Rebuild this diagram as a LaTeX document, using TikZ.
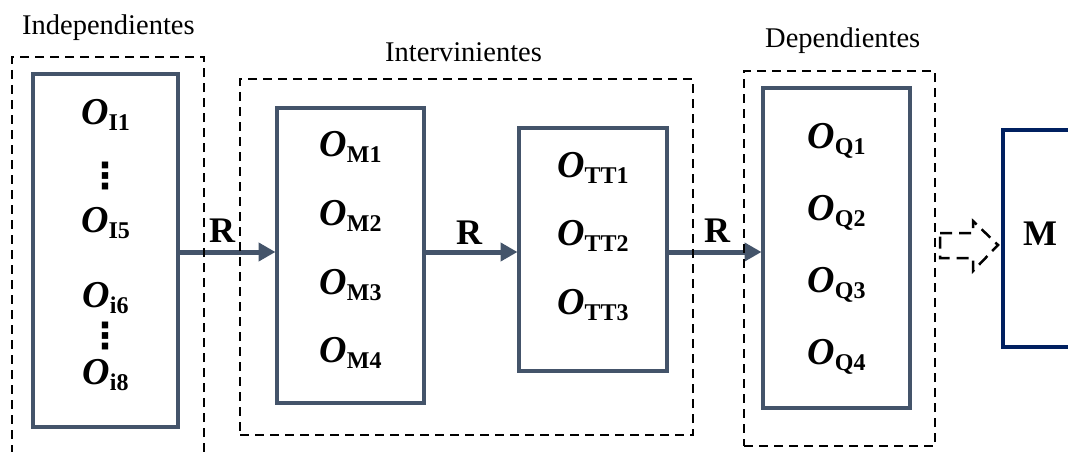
\documentclass[tikz,border=0pt]{standalone}
\usepackage{fontspec}
\setmainfont{Liberation Serif}
\newfontfamily\djv{DejaVu Sans}
\usetikzlibrary{arrows.meta,calc}
\definecolor{slate}{HTML}{44546A}
\definecolor{navy}{HTML}{002060}
\newcommand{\ob}[1]{{\fontsize{38}{38}\selectfont\bfseries\itshape O}\raisebox{-6pt}{\fontsize{24}{24}\selectfont\bfseries #1}}
\tikzset{
  grp/.style={draw=black, line width=2pt, dash pattern=on 9pt off 6pt, inner sep=0pt, outer sep=0pt},
  obox/.style={draw=slate, line width=3.5pt, inner sep=0pt, outer sep=0pt},
  mbox/.style={draw=navy, line width=4pt, inner sep=0pt, outer sep=0pt},
  arr/.style={draw=slate, line width=5pt, -{Triangle[length=17pt,width=18pt]}, shorten >=1.5pt},
  lbl/.style={font=\fontsize{28.5}{30}\selectfont, inner sep=0pt, anchor=base west},
  ent/.style={inner sep=0pt, anchor=base},
  dots/.style={inner sep=0pt, font=\djv\bfseries\fontsize{36}{36}\selectfont},
  rl/.style={font=\fontsize{36}{36}\selectfont\bfseries, inner sep=0pt, anchor=base},
  hollow/.style={draw=black, line width=2.5pt, dash pattern=on 12pt off 7pt},
}
\begin{document}
\begin{tikzpicture}[x=1pt,y=-1pt]
\useasboundingbox (0,0) rectangle (1068,452);
\clip (0,0) rectangle (1068,452);
% labels
\node[lbl] (lI) at (22,35) {Independientes};
\node[lbl] (lT) at (385,62) {Intervinientes};
\node[lbl] (lD) at (765,48) {Dependientes};
% solid boxes
\node[obox, minimum width=145, minimum height=353] (I) at (105.5,250.5) {};
\node[obox, minimum width=147, minimum height=295] (M) at (350.5,255.5) {};
\node[obox, minimum width=148, minimum height=243] (T) at (593,249.5) {};
\node[obox, minimum width=147, minimum height=320] (Q) at (836.5,248) {};
\node[mbox, minimum width=100, minimum height=217] (MB) at (1053,238.5) {};
\node[rl] (ML) at (1040,245) {M};
% entries
\node[ent] (i1) at (105.5,124) {\ob{I1}};
\node[dots] (d1) at (105.5,176) {⋮};
\node[ent] (i5) at (105.5,232) {\ob{I5}};
\node[ent] (i6) at (105.5,307) {\ob{i6}};
\node[dots] (d2) at (105.5,336) {⋮};
\node[ent] (i8) at (105.5,384) {\ob{i8}};
\node[ent] (m1) at (350.5,156) {\ob{M1}};
\node[ent] (m2) at (350.5,225) {\ob{M2}};
\node[ent] (m3) at (350.5,294) {\ob{M3}};
\node[ent] (m4) at (350.5,362) {\ob{M4}};
\node[ent] (t1) at (593,177) {\ob{TT1}};
\node[ent] (t2) at (593,245) {\ob{TT2}};
\node[ent] (t3) at (593,314) {\ob{TT3}};
\node[ent] (q1) at (836.5,148) {\ob{Q1}};
\node[ent] (q2) at (836.5,220) {\ob{Q2}};
\node[ent] (q3) at (836.5,292) {\ob{Q3}};
\node[ent] (q4) at (836.5,364) {\ob{Q4}};
% arrows
\coordinate (ry) at (0,252);
\draw[arr] (I.east |- ry) -- (M.west |- ry);
\draw[arr] (M.east |- ry) -- (T.west |- ry);
\draw[arr] (T.east |- ry) -- (Q.west |- ry);
\node[rl] (r1) at (222,242) {R};
\node[rl] (r2) at (469,244) {R};
\node[rl] (r3) at (717,242) {R};
% hollow dashed arrow
\draw[hollow] (940,233) -- (973,233) -- (973,221) -- (998,245) -- (973,271) -- (973,258) -- (940,258) -- cycle;
% group boxes
\node[grp, minimum width=192, minimum height=413] (gI) at (108,263.5) {};
\node[grp, minimum width=453, minimum height=356] (gT) at (466.5,257) {};
\node[grp, minimum width=191, minimum height=375] (gD) at (839.5,258.5) {};
\end{tikzpicture}
\end{document}
